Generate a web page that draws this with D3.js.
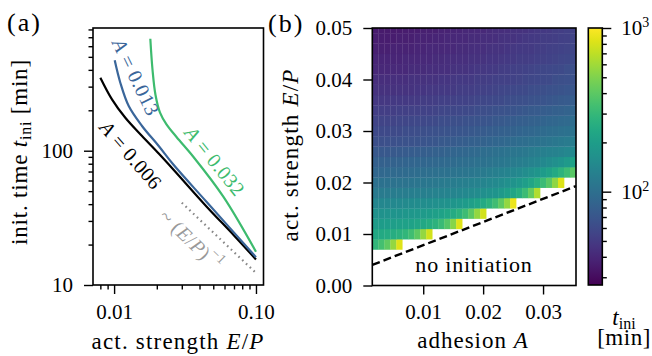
<!DOCTYPE html>
<html><head><meta charset="utf-8">
<script src="https://cdn.jsdelivr.net/npm/d3@7"></script>
<style>
body{margin:0;background:#fff}
svg text{font-family:"Liberation Serif",serif}
</style></head><body>
<svg width="652" height="356" font-family="Liberation Serif"></svg>
<script>
// (a) initiation time vs activation strength
const strengthA006=[0.0080,0.00966,0.0120,0.01573,0.02063,0.02615,0.04495,0.070,0.1];
const timeA006=[350,241.5,176,128.7,95.3,72.5,38.3,23.4,15.5];
const strengthA013=[0.0101,0.01106,0.01268,0.01573,0.02063,0.02615,0.04495,0.1];
const timeA013=[471,321,215,152.8,108.4,78.9,41.5,16.1];
const strengthA032=[0.0180,0.01866,0.01958,0.02107,0.02340,0.02762,0.03616,0.05886,0.1];
const timeA032=[682,399,260,192,157,126,90.2,45.5,17.7];
const strengthRef=[0.03,0.1], timeRef=[41,12.3];

// (b) heatmap: columns = adhesion, rows = strength (bottom to top)
const adhesionVals=[0.002,0.003,0.004,0.005,0.006,0.007,0.008,0.009,0.010,0.011,0.012,0.013,0.014,0.015,0.016,0.017,0.018,
  0.019,0.020,0.021,0.022,0.023,0.024,0.025,0.026,0.027,0.028,0.029,0.030,0.031,0.032,0.033,0.034,0.035];
const strengthRows=[0.008,0.010,0.012,0.014,0.016,0.018,0.020,0.022,0.024,0.026,0.028,0.030,0.032,0.034,0.036,0.038,0.040,0.042,0.044,0.046,0.048,0.050];
const tIniRows=[
[292,338,405,560,834],
[235,240,247,256,270,292,330,400,560,780],
[196,197,199,202,206,211,217,225,236,252,275,310,380,520,840],
[170,171,172,174,176,179,182,186,191,197,205,215,228,247,275,320,400,560,780],
[142,143,144,145,147,149,151,153,156,159,162,166,171,177,184,193,205,221,243,275,325,410,560,900],
[118,119,120,121,122,123,124,126,127,129,131,133,135,138,141,145,149,154,160,167,176,188,204,226,260,315,420,650],
[102,103,104,105,106,107,108,110,111,113,115,117,119,121,124,127,130,134,138,143,148,154,162,172,185,202,226,262,315,391,540,830],
[89,90,91,92,93,94,95,96,98,99,101,102,104,106,108,110,112,115,118,122,126,130,135,141,147,156,166,178,194,214,240,275,322,390],
[80,81,82,83,84,85,86,87,88,89,90,91,93,94,96,98,100,102,104,106,109,112,115,119,123,127,132,138,145,153,162,174,190,215],
[72,72,72,73,74,75,76,77,78,79,81,82,84,86,87,89,91,93,96,98,101,103,106,109,112,115,119,122,126,130,134,138,143,147],
[64,64,65,65,66,67,67,68,69,70,71,73,74,75,77,78,80,81,83,85,87,89,91,94,96,98,101,104,107,110,113,116,119,123],
[60,60,60,61,61,62,62,63,64,65,66,67,68,69,70,71,72,74,75,77,78,80,82,83,85,87,89,91,94,96,98,101,103,106],
[56,56,56,56,57,57,58,59,59,60,61,62,62,64,64,66,67,68,69,70,72,73,75,76,78,79,81,83,85,87,89,91,93,96],
[52,52,52,52,53,53,54,54,55,55,56,57,58,58,59,60,61,62,63,64,66,67,68,69,71,72,74,75,77,78,80,82,84,86],
[48,48,48,49,49,49,50,50,51,51,52,53,53,54,55,55,56,57,58,59,60,61,62,63,64,65,67,68,69,71,72,74,75,77],
[45,45,45,45,46,46,46,47,47,48,48,49,49,50,51,52,52,53,54,55,56,57,58,59,60,61,62,63,64,66,67,68,70,71],
[43,43,43,44,44,44,45,45,45,46,46,47,47,48,49,49,50,51,51,52,53,54,54,55,56,57,58,59,60,61,63,64,65,66],
[40,40,40,41,41,41,42,42,42,43,43,44,44,45,46,46,47,48,48,49,50,51,52,53,54,55,56,57,58,59,60,61,63,64],
[39,39,39,39,39,40,40,40,41,41,42,42,43,43,44,44,45,45,46,47,47,48,49,50,51,51,52,53,54,55,56,57,58,60],
[37,37,37,38,38,38,38,39,39,40,40,40,41,41,42,42,43,44,44,45,46,46,47,48,49,50,50,51,52,53,54,55,56,57],
[36,36,36,36,37,37,37,38,38,38,39,39,40,40,41,41,42,42,43,43,44,45,46,46,47,48,49,50,51,51,52,53,54,56],
[35,35,35,35,35,36,36,36,37,37,37,38,38,39,39,40,40,41,41,42,43,43,44,45,45,46,47,48,49,50,51,52,53,54]
];
const boundaryA=[0.0015,0.0355], boundaryE=[0.0040,0.0193];

const svg=d3.select("svg");
const FONT="Liberation Serif", FS=21, LS=23;

function addAxis(tr, mk, major, minor, fmt, pad){
  const g=svg.append("g").attr("transform",tr);
  if(minor.length) g.append("g").call(mk().tickValues(minor).tickSize(4.5).tickFormat(""));
  g.append("g").attr("class","major").call(mk().tickValues(major).tickSize(9).tickPadding(pad).tickFormat(fmt));
  g.selectAll(".domain").remove();
  g.selectAll("g").attr("font-family",FONT);
  g.selectAll("line").attr("stroke","#000").attr("stroke-width",1.4);
  g.selectAll("text").attr("font-family",FONT).attr("font-size",FS).attr("fill","#000");
  return g;
}
function frame(x0,y0,x1,y1){
  svg.append("rect").attr("x",x0).attr("y",y0).attr("width",x1-x0).attr("height",y1-y0)
     .attr("fill","none").attr("stroke","#000").attr("stroke-width",1.6);
}
function label(x,y,ang,size,spacing){
  return svg.append("text").attr("transform","translate("+x+","+y+") rotate("+ang+")")
    .attr("text-anchor","middle").attr("font-family",FONT).attr("font-size",size)
    .attr("letter-spacing",spacing);
}
// rotated curve label, centred on its middle
function tag(x,y,ang,color){
  return label(x,y,ang,20,0.5).attr("dominant-baseline","central").attr("fill",color);
}
function strengthLabel(t){
  t.append("tspan").text("act. strength ");
  t.append("tspan").attr("font-style","italic").text("E");
  t.append("tspan").text("/");
  t.append("tspan").attr("font-style","italic").text("P");
}

// ---------- panel (a)
const xA=d3.scaleLog().domain([0.0071,0.113]).range([93,263.5]);
const yA=d3.scaleLog().domain([10,820]).range([285,28]);

addAxis("translate(93,0)",()=>d3.axisLeft(yA),[10,100],[20,30,40,50,60,70,80,90,200,300,400,500,600,700,800],d3.format("d"),11);
addAxis("translate(0,285)",()=>d3.axisBottom(xA),[0.01,0.1],[0.008,0.009,0.02,0.03,0.04,0.05,0.06,0.07,0.08,0.09],d3.format(".2f"),10);

const lineA=d3.line().x(d=>xA(d[0])).y(d=>yA(d[1])).curve(d3.curveCatmullRom.alpha(0.5));
[[strengthA006,timeA006,"#000"],[strengthA013,timeA013,"#3a669a"],[strengthA032,timeA032,"#3dbb6e"]].forEach(s=>{
  svg.append("path").datum(d3.zip(s[0],s[1])).attr("d",lineA)
     .attr("fill","none").attr("stroke",s[2]).attr("stroke-width",2.2);
});
svg.append("path").datum(d3.zip(strengthRef,timeRef)).attr("d",lineA)
   .attr("fill","none").attr("stroke","#888").attr("stroke-width",2.2).attr("stroke-dasharray","1.6,3.6");
frame(93,28,263.5,285);

let t=tag(136,77,64,"#3a669a"); t.append("tspan").attr("font-style","italic").text("A"); t.append("tspan").text(" = 0.013");
t=tag(131,155,49,"#000"); t.append("tspan").attr("font-style","italic").text("A"); t.append("tspan").text(" = 0.006");
t=tag(215,161,51,"#3dbb6e"); t.append("tspan").attr("font-style","italic").text("A"); t.append("tspan").text(" = 0.032");
t=tag(191,240,44,"#999"); t.append("tspan").text("~ (");
t.append("tspan").attr("font-style","italic").text("E");
t.append("tspan").text("/");
t.append("tspan").attr("font-style","italic").text("P");
t.append("tspan").text(")");
t.append("tspan").attr("font-size",14).attr("dy",-8).text("−1");

// axis titles (a)
t=label(27,152,-90,LS,0.8);
t.append("tspan").text("init. time ");
t.append("tspan").attr("font-style","italic").text("t");
t.append("tspan").attr("font-size",16).attr("dy",4).text("ini");
t.append("tspan").attr("dy",-4).text(" [min]");
strengthLabel(label(178,349,0,LS,1.2));
label(7,31,0,26,2).attr("text-anchor","start").text("(a)");

// ---------- panel (b)
const xB=d3.scaleLinear().domain([0.0015,0.0355]).range([372.3,576]);
const yB=d3.scaleLinear().domain([0,0.05]).range([285.5,28]);
const color=d3.scaleSequentialLog(d3.interpolateViridis).domain([26.9,1000]);

svg.append("clipPath").attr("id","clipB").append("rect")
   .attr("x",372.3).attr("y",28).attr("width",576-372.3).attr("height",285.5-28);
const cells=[];
tIniRows.forEach((row,i)=>row.forEach((v,k)=>cells.push({a:adhesionVals[k],e:strengthRows[i],v:v})));
svg.append("g").attr("clip-path","url(#clipB)").selectAll("rect").data(cells).enter().append("rect")
   .attr("x",d=>xB(d.a-0.0005)).attr("y",d=>yB(d.e+0.001))
   .attr("width",d=>xB(d.a+0.0005)-xB(d.a-0.0005)+0.3)
   .attr("height",d=>yB(d.e-0.001)-yB(d.e+0.001)+0.3)
   .attr("fill",d=>color(d.v));

svg.append("path").datum(d3.zip(boundaryA,boundaryE))
   .attr("d",d3.line().x(d=>xB(d[0])).y(d=>yB(d[1])))
   .attr("stroke","#000").attr("stroke-width",2.4).attr("stroke-dasharray","8,4").attr("fill","none");
label(474,272,0,22,0.8).text("no initiation");

addAxis("translate(372.3,0)",()=>d3.axisLeft(yB),[0,0.01,0.02,0.03,0.04,0.05],[],d3.format(".2f"),11);
addAxis("translate(0,285.5)",()=>d3.axisBottom(xB),[0.01,0.02,0.03],[],d3.format(".2f"),10);
frame(372.3,28,576,285.5);

strengthLabel(label(298,155,-90,LS,1.2));
t=label(473,348,0,LS,1.0);
t.append("tspan").text("adhesion ");
t.append("tspan").attr("font-style","italic").text("A");
label(268,32,0,26,2).attr("text-anchor","start").text("(b)");

// ---------- colorbar
const yC=d3.scaleLog().domain([26.9,1000]).range([285,28]);
const grad=svg.append("defs").append("linearGradient").attr("id","cb").attr("x1",0).attr("y1",1).attr("x2",0).attr("y2",0);
d3.range(0,1.0001,0.05).forEach(p=>grad.append("stop").attr("offset",p).attr("stop-color",d3.interpolateViridis(p)));
svg.append("rect").attr("x",588.3).attr("y",28).attr("width",14).attr("height",257).attr("fill","url(#cb)");
const gc=addAxis("translate(602.3,0)",()=>d3.axisRight(yC),[100,1000],[30,40,50,60,70,80,90,200,300,400,500,600,700,800,900],()=>"10",10);
gc.selectAll(".major .tick text").append("tspan").attr("dy",-8).attr("font-size",14).text(d=>Math.round(Math.log10(d)));
frame(588.3,28,602.3,285);
t=label(624,325,0,LS,0);
t.append("tspan").attr("font-style","italic").text("t");
t.append("tspan").attr("font-size",16).attr("dy",4).text("ini");
label(624,345,0,LS,0.5).text("[min]");
</script>
</body></html>
